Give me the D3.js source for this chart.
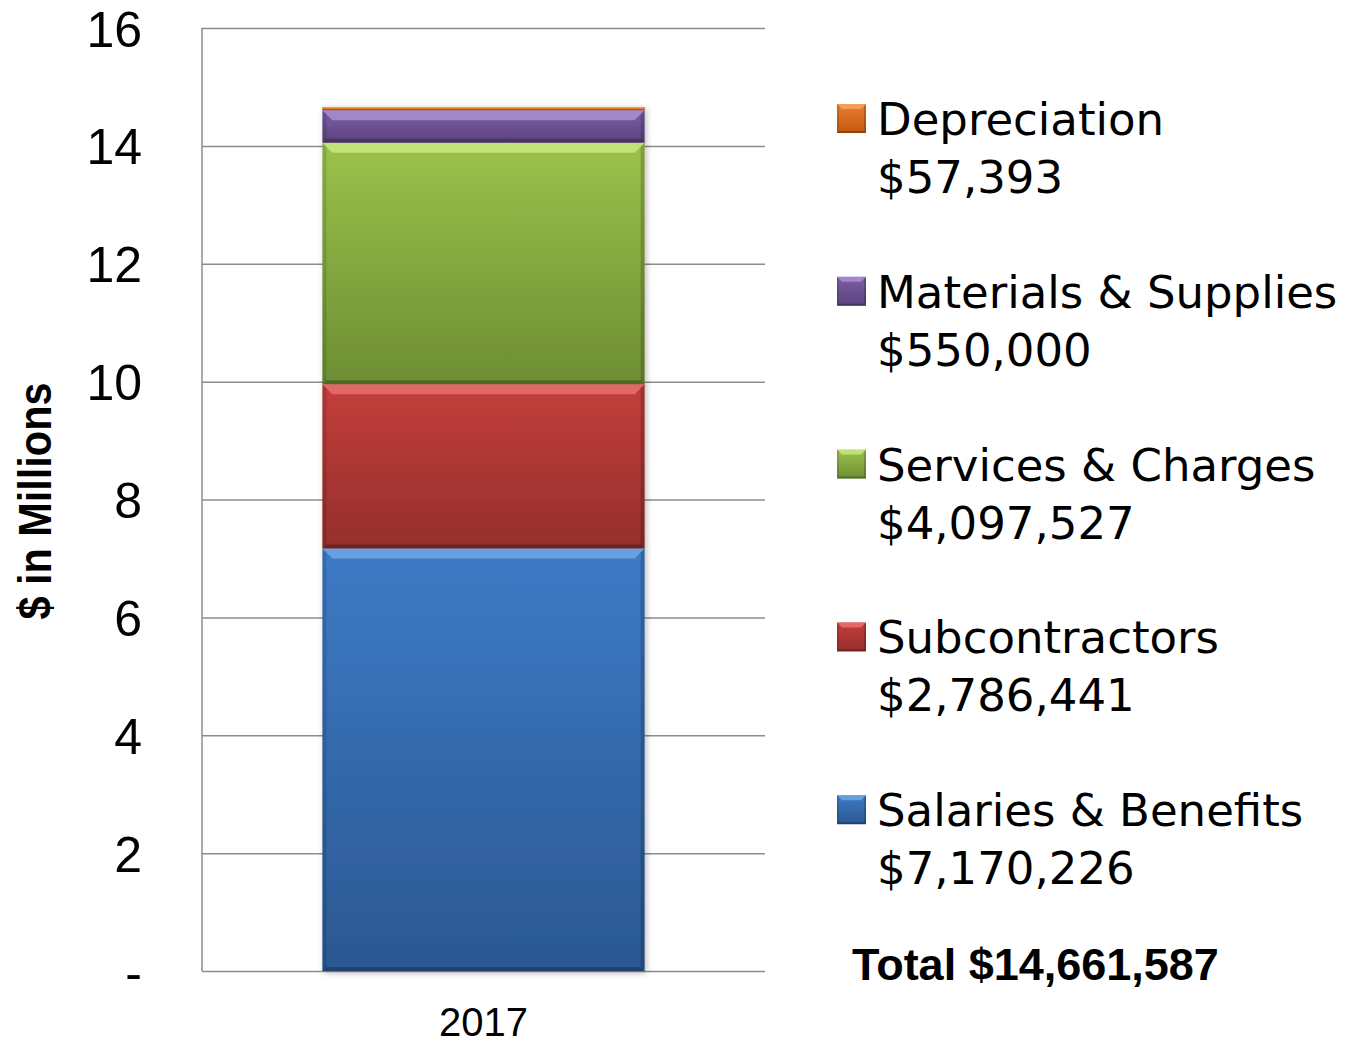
<!DOCTYPE html>
<html lang="en">
<head>
    <meta charset="UTF-8">
    <title>Expenses 2017</title>
    <script src="https://d3js.org/d3.v7.min.js"></script>
    <style>
        body {
            margin: 0;
            padding: 0;
            background: #fff;
            overflow: hidden;
        }
        .grid line {
            stroke: #8c8c8c;
            stroke-width: 1.5px;
        }
        .tick-labels text {
            font-family: 'Liberation Sans', Arial, sans-serif;
            font-size: 50px;
            fill: #000;
        }
        .legend text {
            font-family: 'DejaVu Sans', sans-serif;
            font-size: 45px;
            fill: #000;
        }
    </style>
</head>
<body>
<div id="my_dataviz"></div>

<script>
    // data
    var years = ["2017"];
    var series = ["Salaries & Benefits", "Subcontractors", "Services & Charges", "Materials & Supplies", "Depreciation"];
    var amounts = [7170226, 2786441, 4097527, 550000, 57393];
    var amountLabels = ["$7,170,226", "$2,786,441", "$4,097,527", "$550,000", "$57,393"];
    var yTicks = [0, 2, 4, 6, 8, 10, 12, 14, 16];
    var totalLabel = "Total $14,661,587";

    // colours: top of segment, bottom of segment, bevel highlight
    var topColors = ["#3d7bc6", "#c43e3b", "#9cc24b", "#7c5fa6", "#ec7c2c"];
    var bottomColors = ["#2b5892", "#942f2c", "#6d8e33", "#5b427d", "#c05a10"];
    var lightColors = ["#7fb4f0", "#f58080", "#d4f590", "#bb9de0", "#fbb070"];

    var width = 1352, height = 1043;

    var svg = d3.select("#my_dataviz").append("svg")
        .attr("width", width)
        .attr("height", height);

    var defs = svg.append("defs");

    series.forEach(function(s, i) {
        var g = defs.append("linearGradient")
            .attr("id", "grad" + i)
            .attr("x1", 0).attr("y1", 0).attr("x2", 0).attr("y2", 1);
        g.append("stop").attr("offset", "0%").attr("stop-color", topColors[i]);
        g.append("stop").attr("offset", "100%").attr("stop-color", bottomColors[i]);
    });

    var shadow = defs.append("filter").attr("id", "shadow")
        .attr("x", "-10%").attr("y", "-10%").attr("width", "120%").attr("height", "120%");
    shadow.append("feDropShadow")
        .attr("dx", 2).attr("dy", 2)
        .attr("stdDeviation", 3)
        .attr("flood-color", "#000")
        .attr("flood-opacity", 0.25);

    var x = d3.scaleBand()
        .domain(years)
        .range([202, 765])
        .paddingInner(0.272)
        .paddingOuter(0.272);

    var y = d3.scaleLinear()
        .domain([0, 16])
        .range([971, 28]);

    // gridlines
    svg.append("g")
        .attr("class", "grid")
        .attr("transform", "translate(202,0)")
        .call(d3.axisLeft(y).tickValues(yTicks).tickSize(-563).tickFormat(""))
        .call(g => g.select(".domain").remove());

    // left axis line
    svg.append("line")
        .attr("x1", 202).attr("x2", 202)
        .attr("y1", y(16)).attr("y2", y(0))
        .attr("stroke", "#8c8c8c")
        .attr("stroke-width", 1.5);

    // tick labels
    svg.append("g")
        .attr("class", "tick-labels")
        .attr("transform", "translate(202,0)")
        .call(d3.axisLeft(y).tickValues(yTicks).tickSize(0).tickPadding(60)
            .tickFormat(d => d === 0 ? "-" : d))
        .call(g => g.select(".domain").remove())
        .call(g => g.selectAll("text").attr("dy", "0.36em"));

    // stack the segments
    var row = {year: years[0]};
    series.forEach((s, i) => row[s] = amounts[i] / 1e6);
    var stacked = d3.stack().keys(series)([row]);

    var barGroup = svg.append("g").attr("filter", "url(#shadow)");

    function bevel(g, x0, x1, y0, y1, i, b) {
        g.append("rect")
            .attr("x", x0).attr("y", y0)
            .attr("width", x1 - x0).attr("height", y1 - y0)
            .attr("fill", "url(#grad" + i + ")");
        // top highlight
        g.append("path")
            .attr("d", "M" + x0 + "," + y0 + "L" + x1 + "," + y0 + "L" + (x1 - b) + "," + (y0 + b) + "L" + (x0 + b) + "," + (y0 + b) + "Z")
            .attr("fill", lightColors[i]).attr("opacity", 0.65);
        // bottom shade
        g.append("path")
            .attr("d", "M" + x0 + "," + y1 + "L" + x1 + "," + y1 + "L" + (x1 - b * 0.4) + "," + (y1 - b * 0.4) + "L" + (x0 + b * 0.4) + "," + (y1 - b * 0.4) + "Z")
            .attr("fill", "#000").attr("opacity", 0.25);
        // sides
        g.append("path")
            .attr("d", "M" + x0 + "," + y0 + "L" + (x0 + b * 0.4) + "," + (y0 + b * 0.4) + "L" + (x0 + b * 0.4) + "," + (y1 - b * 0.4) + "L" + x0 + "," + y1 + "Z")
            .attr("fill", "#000").attr("opacity", 0.12);
        g.append("path")
            .attr("d", "M" + x1 + "," + y0 + "L" + (x1 - b * 0.4) + "," + (y0 + b * 0.4) + "L" + (x1 - b * 0.4) + "," + (y1 - b * 0.4) + "L" + x1 + "," + y1 + "Z")
            .attr("fill", "#000").attr("opacity", 0.18);
    }

    stacked.forEach(function(layer, i) {
        layer.forEach(function(d) {
            var x0 = x(d.data.year), x1 = x0 + x.bandwidth();
            var yTop = y(d[1]), yBot = y(d[0]);
            var b = Math.min(10, (yBot - yTop) / 2);
            bevel(barGroup.append("g"), x0, x1, yTop, yBot, i, b);
        });
    });

    // x label
    svg.append("text")
        .attr("x", x(years[0]) + x.bandwidth() / 2)
        .attr("y", 1036)
        .attr("text-anchor", "middle")
        .style("font-family", "'Liberation Sans', Arial, sans-serif")
        .style("font-size", "40px")
        .text(years[0]);

    // y axis title
    svg.append("text")
        .attr("transform", "translate(51,501) rotate(-90)")
        .attr("text-anchor", "middle")
        .attr("textLength", 237)
        .attr("lengthAdjust", "spacingAndGlyphs")
        .style("font-family", "'Liberation Sans', Arial, sans-serif")
        .style("font-weight", "bold")
        .style("font-size", "46px")
        .text("$ in Millions");

    // legend, top entry is the top of the stack
    var legend = svg.append("g").attr("class", "legend");
    var order = d3.range(series.length).reverse();
    order.forEach(function(i, k) {
        var base = 135 + k * 172.8;
        var g = legend.append("g");
        bevel(g, 837, 866, base - 31, base - 2, i, 5);
        g.append("text").attr("x", 877).attr("y", base).text(series[i]);
        g.append("text").attr("x", 877).attr("y", base + 58).text(amountLabels[i]);
    });

    svg.append("text")
        .attr("x", 852)
        .attr("y", 980)
        .style("font-family", "'Liberation Sans', Arial, sans-serif")
        .style("font-weight", "bold")
        .style("font-size", "45px")
        .text(totalLabel);
</script>
</body>
</html>
